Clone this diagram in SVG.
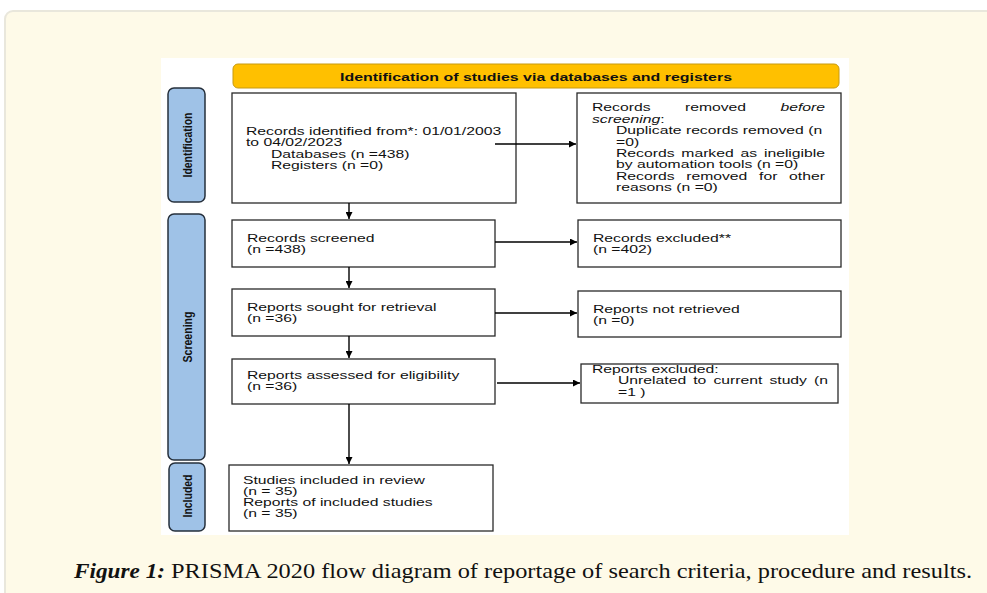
<svg xmlns="http://www.w3.org/2000/svg" width="987" height="593" viewBox="0 0 987 593">
<defs>
<marker id="ah" viewBox="0 0 10 10" refX="10" refY="5" markerWidth="8" markerHeight="7" markerUnits="userSpaceOnUse" orient="auto">
<path d="M0,0 L10,5 L0,10 z" fill="#000"/>
</marker>
<style>
.box{fill:#fff;stroke:#2a2a2a;stroke-width:1.3}
.side{fill:#9fc2e7;stroke:#26303c;stroke-width:1.5}
.t{font-family:"Liberation Sans",Arial,sans-serif;font-size:11px;fill:#111}
.it{font-style:italic}
.lab{font-family:"Liberation Sans",Arial,sans-serif;font-size:13.5px;font-weight:bold;fill:#111}
.con{stroke:#000;stroke-width:1.4;fill:none}
</style>
</defs>
<rect x="0" y="0" width="987" height="593" fill="#fff"/>
<rect x="5" y="11" width="1000" height="600" rx="8" fill="#fefae8" stroke="#e9e7dc" stroke-width="2"/>
<rect x="161" y="58" width="688" height="477" fill="#fff"/>

<g id="header">
<rect x="233" y="64" width="606" height="24" rx="5" fill="#ffc000" stroke="#c79a10" stroke-width="1"/>
<text x="536" y="80.5" text-anchor="middle" font-family="Liberation Sans,Arial,sans-serif" font-size="11.6" font-weight="bold" fill="#111" textLength="392" lengthAdjust="spacingAndGlyphs">Identification of studies via databases and registers</text>
</g>

<g id="side-identification">
<rect class="side" x="168" y="88" width="37" height="114" rx="6"/>
<text class="lab" transform="translate(191.5,145) rotate(-90)" text-anchor="middle" textLength="65" lengthAdjust="spacingAndGlyphs">Identification</text>
</g>
<g id="side-screening">
<rect class="side" x="168" y="214" width="37" height="246" rx="6"/>
<text class="lab" transform="translate(191.5,337) rotate(-90)" text-anchor="middle" textLength="51" lengthAdjust="spacingAndGlyphs">Screening</text>
</g>
<g id="side-included">
<rect class="side" x="169" y="463" width="36" height="68" rx="6"/>
<text class="lab" transform="translate(191.5,496) rotate(-90)" text-anchor="middle" textLength="43" lengthAdjust="spacingAndGlyphs">Included</text>
</g>

<g id="records-identified">
<rect class="box" x="232" y="93" width="284" height="110"/>
<text class="t" transform="translate(246,134.5) scale(1.43,1)">Records identified from*: 01/01/2003</text>
<text class="t" transform="translate(246,146) scale(1.43,1)">to 04/02/2023</text>
<text class="t" transform="translate(271,157.5) scale(1.43,1)">Databases (n =438)</text>
<text class="t" transform="translate(271,169) scale(1.43,1)">Registers (n =0)</text>
</g>

<g id="records-removed">
<rect class="box" x="577" y="93" width="264" height="110"/>
<text class="t" transform="translate(592,111) scale(1.43,1)">Records</text>
<text class="t" transform="translate(684.9,111) scale(1.43,1)">removed</text>
<text class="t it" transform="translate(780.5,111) scale(1.43,1)">before</text>
<text class="t" transform="translate(592,122.5) scale(1.43,1)"><tspan class="it">screening</tspan>:</text>
<text class="t" transform="translate(616,134) scale(1.43,1)">Duplicate records removed (n</text>
<text class="t" transform="translate(616,145.5) scale(1.43,1)">=0)</text>
<text class="t" transform="translate(616,157) scale(1.43,1)">Records</text>
<text class="t" transform="translate(681.3,157) scale(1.43,1)">marked</text>
<text class="t" transform="translate(740.5,157) scale(1.43,1)">as</text>
<text class="t" transform="translate(763.9,157) scale(1.43,1)">ineligible</text>
<text class="t" transform="translate(616,168) scale(1.43,1)">by automation tools (n =0)</text>
<text class="t" transform="translate(616,179.5) scale(1.43,1)">Records</text>
<text class="t" transform="translate(686.2,179.5) scale(1.43,1)">removed</text>
<text class="t" transform="translate(759.1,179.5) scale(1.43,1)">for</text>
<text class="t" transform="translate(789.1,179.5) scale(1.43,1)">other</text>
<text class="t" transform="translate(616,191) scale(1.43,1)">reasons (n =0)</text>
</g>

<g id="records-screened">
<rect class="box" x="232" y="220" width="263" height="47"/>
<text class="t" transform="translate(247,242) scale(1.43,1)">Records screened</text>
<text class="t" transform="translate(247,253) scale(1.43,1)">(n =438)</text>
</g>

<g id="records-excluded">
<rect class="box" x="578" y="220" width="263" height="47"/>
<text class="t" transform="translate(593,242) scale(1.43,1)">Records excluded**</text>
<text class="t" transform="translate(593,253) scale(1.43,1)">(n =402)</text>
</g>

<g id="reports-sought">
<rect class="box" x="232" y="289" width="263" height="47"/>
<text class="t" transform="translate(247,310.5) scale(1.43,1)">Reports sought for retrieval</text>
<text class="t" transform="translate(247,322) scale(1.43,1)">(n =36)</text>
</g>

<g id="reports-not-retrieved">
<rect class="box" x="578" y="291" width="263" height="46"/>
<text class="t" transform="translate(593,313) scale(1.43,1)">Reports not retrieved</text>
<text class="t" transform="translate(593,324) scale(1.43,1)">(n =0)</text>
</g>

<g id="reports-assessed">
<rect class="box" x="232" y="359" width="263" height="45"/>
<text class="t" transform="translate(247,379) scale(1.43,1)">Reports assessed for eligibility</text>
<text class="t" transform="translate(247,390) scale(1.43,1)">(n =36)</text>
</g>

<g id="reports-excluded">
<rect class="box" x="581" y="364" width="257" height="39"/>
<text class="t" transform="translate(592,372.5) scale(1.43,1)">Reports excluded:</text>
<text class="t" transform="translate(618,384) scale(1.43,1)">Unrelated</text>
<text class="t" transform="translate(693.2,384) scale(1.43,1)">to</text>
<text class="t" transform="translate(713.4,384) scale(1.43,1)">current</text>
<text class="t" transform="translate(769.4,384) scale(1.43,1)">study</text>
<text class="t" transform="translate(814.1,384) scale(1.43,1)">(n</text>
<text class="t" transform="translate(618,396) scale(1.43,1)">=1 )</text>
</g>

<g id="studies-included">
<rect class="box" x="229" y="465" width="264" height="66"/>
<text class="t" transform="translate(243,484) scale(1.43,1)">Studies included in review</text>
<text class="t" transform="translate(243,494.5) scale(1.43,1)">(n = 35)</text>
<text class="t" transform="translate(243,506) scale(1.43,1)">Reports of included studies</text>
<text class="t" transform="translate(243,516.5) scale(1.43,1)">(n = 35)</text>
</g>

<g id="connectors">
<line class="con" x1="495" y1="144" x2="576" y2="144" marker-end="url(#ah)"/>
<line class="con" x1="349" y1="203" x2="349" y2="219" marker-end="url(#ah)"/>
<line class="con" x1="495" y1="242" x2="577" y2="242" marker-end="url(#ah)"/>
<line class="con" x1="349" y1="267" x2="349" y2="288" marker-end="url(#ah)"/>
<line class="con" x1="495" y1="313" x2="577" y2="313" marker-end="url(#ah)"/>
<line class="con" x1="349" y1="336" x2="349" y2="358" marker-end="url(#ah)"/>
<line class="con" x1="497" y1="383" x2="580" y2="383" marker-end="url(#ah)"/>
<line class="con" x1="349" y1="404" x2="349" y2="464" marker-end="url(#ah)"/>
</g>

<g id="caption">
<text x="74" y="578" font-family="Liberation Serif,Times New Roman,serif" font-size="22" font-weight="bold" font-style="italic" fill="#111" textLength="91" lengthAdjust="spacingAndGlyphs">Figure 1:</text>
<text x="171" y="578" font-family="Liberation Serif,Times New Roman,serif" font-size="22" fill="#111" textLength="801" lengthAdjust="spacingAndGlyphs">PRISMA 2020 flow diagram of reportage of search criteria, procedure and results.</text>
</g>
</svg>
